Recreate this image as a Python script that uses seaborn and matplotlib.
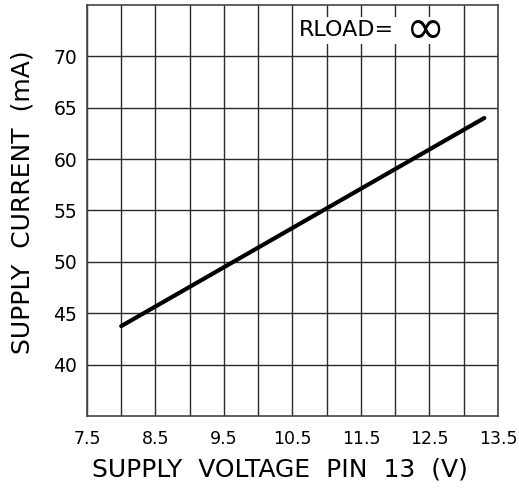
import numpy as np
import pandas as pd
import matplotlib
matplotlib.use("Agg")
import matplotlib.pyplot as plt
from matplotlib.patches import Rectangle
import seaborn as sns

# --- data ---
supply_voltage = [8.0, 13.3]          # V
supply_current = [43.75, 64.0]        # mA

x_ticks = [7.5, 8.5, 9.5, 10.5, 11.5, 12.5, 13.5]
x_grid = np.arange(7.5, 13.51, 0.5)
y_ticks = [40, 45, 50, 55, 60, 65, 70]

df = pd.DataFrame({"voltage": supply_voltage, "current": supply_current})

sns.set_style("white")
plt.rcParams['font.family'] = ['DejaVu Sans']

fig = plt.figure(figsize=(5.19, 4.88), dpi=100)
ax = fig.add_axes([0.1676, 0.1475, 0.7919, 0.8423])

# grid drawn by hand so that every 0.5 V gets a line
for xv in x_grid:
    ax.axvline(xv, color="#2a2a2a", lw=1.0, zorder=1)
for yv in y_ticks:
    ax.axhline(yv, color="#2a2a2a", lw=1.0, zorder=1)

sns.lineplot(data=df, x="voltage", y="current", color="black", lw=3.0, ax=ax, zorder=3)

ax.set_xlim(7.5, 13.5)
ax.set_ylim(35, 75)
ax.set_xticks(x_ticks)
ax.set_xticklabels([f"{v:.1f}" for v in x_ticks], fontsize=12.5, color="black")
ax.set_yticks(y_ticks)
ax.set_yticklabels([str(v) for v in y_ticks], fontsize=13.5, color="black")
ax.tick_params(length=0, pad=7)
ax.tick_params(axis="x", pad=10)

for sp in ax.spines.values():
    sp.set_color("#444444")
    sp.set_linewidth(1.2)

xl = ax.set_xlabel("SUPPLY  VOLTAGE  PIN  13  (V)", fontsize=18, color="black")
yl = ax.set_ylabel("SUPPLY  CURRENT  (mA)", fontsize=18, color="black")
xl.set_verticalalignment("center")
yl.set_verticalalignment("center")
ax.xaxis.set_label_coords(0.47, -0.131)
ax.yaxis.set_label_coords(-0.158, 0.52)

# white label panel in the top-right cell row
ax.add_patch(Rectangle((10.53, 71.2), 2.44, 2.6, facecolor="white", edgecolor="none", zorder=2))
ax.text(10.6, 72.6, "RLOAD=", fontsize=16, ha="left", va="center", zorder=4, color="black")
ax.text(12.45, 72.5, "\u221e", fontsize=34, ha="center", va="center", zorder=5, color="black")

fig.savefig("out.png", dpi=100)
